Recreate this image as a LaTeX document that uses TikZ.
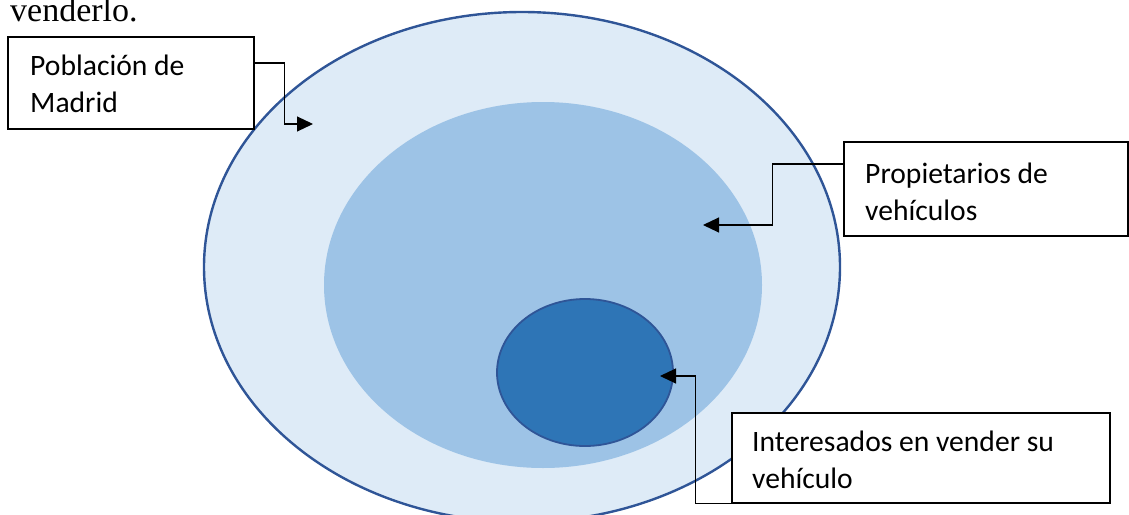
\documentclass[tikz,border=0pt]{standalone}
\usepackage{fontspec}
\setmainfont{Liberation Serif}
\newfontfamily\calib{Carlito}
\usetikzlibrary{arrows.meta}
\definecolor{outerfill}{HTML}{DEEBF7}
\definecolor{midfill}{HTML}{9DC3E6}
\definecolor{innerfill}{HTML}{2E75B6}
\definecolor{rim}{HTML}{2F5597}
\begin{document}
\begin{tikzpicture}[x=1pt,y=-1pt,
  box/.style={draw=black, line width=1.6pt, fill=white, inner sep=0pt},
  lbl/.style={font=\calib\fontsize{29.6}{37}\selectfont, align=left, inner sep=0pt, anchor=base west},
  link/.style={draw=black, line width=1.1pt, -{Triangle[length=16pt,width=15pt]}}]
\useasboundingbox (0,0) rectangle (1129,514);

% nested sets
\draw[rim, line width=2.4pt, fill=outerfill] (522,267) ellipse [x radius=318, y radius=255];
\fill[midfill] (543,285) ellipse [x radius=219, y radius=183];
\draw[rim, line width=1.8pt, fill=innerfill] (585,372.5) ellipse [x radius=88, y radius=73.5];

% text carried over from the page above
\node[anchor=base west, inner sep=0pt, font=\fontsize{34}{40}\selectfont] (prev) at (10,21) {venderlo.};

% label boxes
\node[box, minimum width=246, minimum height=92] (b1) at (131,83) {};
\node[box, minimum width=284, minimum height=94] (b2) at (986,189) {};
\node[box, minimum width=378, minimum height=90] (b3) at (921,458) {};
% labels anchored on the baseline of their last line
\node[lbl] (t1) at (30,112) {Población de\\Madrid};
\node[lbl] (t2) at (865,220) {Propietarios de\\vehículos};
\node[lbl] (t3) at (752,488) {Interesados en vender su\\vehículo};

% arrow targets inside each set
\coordinate (p1) at (313,124);
\coordinate (p2) at (703,225);
\coordinate (p3) at (660,376);

% connectors
\draw[link] ([yshift=20pt]b1.east) -- ++(30,0) |- (p1);
\draw[link] ([yshift=25pt]b2.west) -- ++(-71,0) |- (p2);
\draw[link] (b3.south west) -- ++(-36,0) |- (p3);
\end{tikzpicture}
\end{document}
